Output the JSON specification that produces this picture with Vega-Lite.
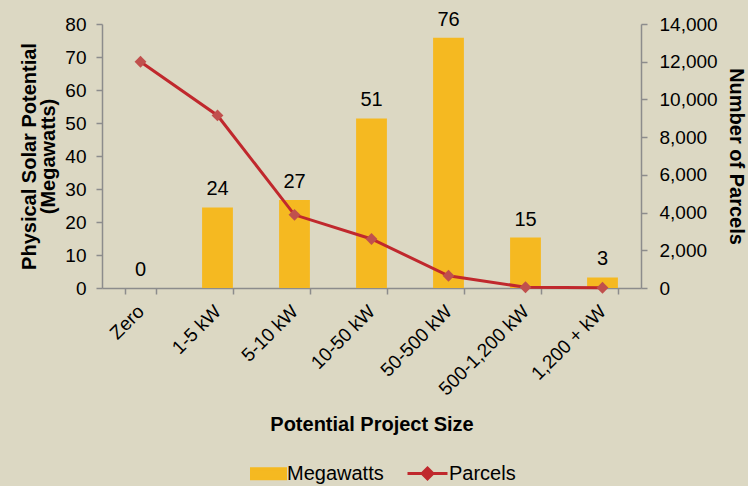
{
  "$schema": "https://vega.github.io/schema/vega-lite/v6.json",
  "width": 539,
  "height": 264,
  "autosize": {"type": "none"},
  "padding": {"left": 102, "top": 24, "right": 107, "bottom": 198},
  "background": "#dcd8c3",
  "config": {
    "view": {"stroke": null},
    "font": "Liberation Sans",
    "axis": {
      "domainColor": "#8c8c8c",
      "domainWidth": 1.5,
      "tickColor": "#8c8c8c",
      "tickWidth": 1.5,
      "tickSize": 6,
      "grid": false,
      "labelFont": "Liberation Sans",
      "labelFontSize": 19,
      "labelColor": "#000000",
      "titleFont": "Liberation Sans",
      "titleFontSize": 20,
      "titleFontWeight": "bold",
      "titleColor": "#000000"
    }
  },
  "data": {
    "values": [
      {"size": "Zero", "mw": 0, "parcels": 12000},
      {"size": "1-5 kW", "mw": 24.4, "parcels": 9150},
      {"size": "5-10 kW", "mw": 26.7, "parcels": 3880},
      {"size": "10-50 kW", "mw": 51.4, "parcels": 2600},
      {"size": "50-500 kW", "mw": 75.8, "parcels": 650},
      {"size": "500-1,200 kW", "mw": 15.3, "parcels": 40},
      {"size": "1,200 + kW", "mw": 3.2, "parcels": 15}
    ]
  },
  "encoding": {
    "x": {
      "field": "size",
      "type": "nominal",
      "sort": null,
      "scale": {"paddingInner": 0.6, "paddingOuter": 0.3},
      "axis": {
        "title": "Potential Project Size",
        "labelAngle": -45,
        "labelBaseline": "middle",
        "tickBand": "extent",
        "labelPadding": 14,
        "titlePadding": 16
      }
    }
  },
  "layer": [
    {
      "layer": [
        {
          "mark": {"type": "bar"},
          "encoding": {
            "y": {
              "field": "mw",
              "type": "quantitative",
              "scale": {"domain": [0, 80]},
              "axis": {
                "title": ["Physical Solar Potential", "(Megawatts)"],
                "tickCount": 8,
                "labelPadding": 10,
                "titlePadding": 6,
                "titleLineHeight": 19
              }
            },
            "color": {
              "datum": "Megawatts",
              "scale": {"domain": ["Megawatts", "Parcels"], "range": ["#f5b921", "#c0282d"]},
              "legend": {
                "orient": "none",
                "legendX": 142,
                "legendY": 428,
                "direction": "horizontal",
                "title": null,
                "symbolSize": 1600,
                "labelFont": "Liberation Sans",
                "labelFontSize": 20,
                "labelColor": "#000000",
                "labelOffset": 0,
                "columnPadding": 17,
                "encode": {
                  "symbols": {
                    "update": {
                      "shape": {"signal": "datum.value === 'Parcels' ? 'M-1,0H1M0,-0.27L0.27,0L0,0.27L-0.27,0Z' : 'M-0.7,-0.25H1V0.25H-0.7Z'"},
                      "fill": {"signal": "datum.value === 'Parcels' ? '#c0504d' : '#f5b921'"},
                      "stroke": {"signal": "datum.value === 'Parcels' ? '#c0282d' : 'transparent'"},
                      "strokeWidth": {"value": 3},
                      "opacity": {"value": 1}
                    }
                  }
                }
              }
            }
          }
        },
        {
          "mark": {"type": "text", "baseline": "bottom", "dy": -8, "fontSize": 20, "font": "Liberation Sans", "color": "#000000"},
          "encoding": {
            "y": {"field": "mw", "type": "quantitative"},
            "text": {"field": "mw", "type": "quantitative", "format": ".0f"}
          }
        }
      ]
    },
    {
      "layer": [
        {
          "mark": {"type": "line", "strokeWidth": 3},
          "encoding": {
            "y": {
              "field": "parcels",
              "type": "quantitative",
              "scale": {"domain": [0, 14000]},
              "axis": {
                "title": "Number of Parcels",
                "orient": "right",
                "format": ",.0f",
                "tickCount": 7,
                "labelPadding": 12,
                "titlePadding": 8
              }
            },
            "color": {"datum": "Parcels"}
          }
        },
        {
          "mark": {"type": "point", "shape": "diamond", "filled": true, "size": 140, "color": "#c0504d", "opacity": 1},
          "encoding": {
            "y": {"field": "parcels", "type": "quantitative"}
          }
        }
      ]
    }
  ],
  "resolve": {"scale": {"y": "independent"}}
}
